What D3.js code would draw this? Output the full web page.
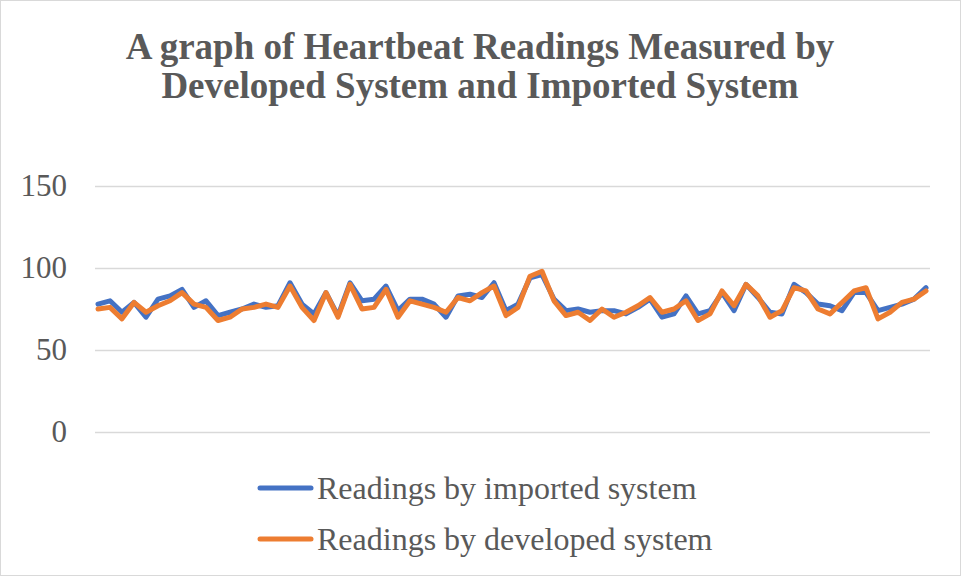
<!DOCTYPE html>
<html>
<head>
<meta charset="utf-8">
<script src="https://cdn.jsdelivr.net/npm/d3@7"></script>
<style>
html,body{margin:0;padding:0;background:#fff;}
svg{display:block;}
</style>
</head>
<body>
<svg id="chart" width="961" height="576"></svg>
<script>
const titleLines = ["A graph of Heartbeat Readings Measured by", "Developed System and Imported System"];
const yTicks = [0, 50, 100, 150];
const seriesNames = ["Readings by imported system", "Readings by developed system"];
const seriesColors = ["#4472C4", "#ED7D31"];
const imported = [78,80,73,79,70,81,83,87,76,80,
                  71,73,75,78,76,77,91,78,72,85,
                  71,91,80,81,89,74,81,81,78,70,
                  83,84,82,91,74,78,94,96,81,74,
                  75,73,74,74,72,76,81,70,72,83,
                  72,74,85,74,90,82,73,72,90,85,
                  78,77,74,85,85,74,76,78,81,88];
const developed = [75,76,69,79,73,77,80,85,78,76,
                   68,70,75,76,78,76,89,76,68,85,
                   70,90,75,76,87,70,80,78,76,73,
                   82,80,85,89,71,76,95,98,80,71,
                   73,68,75,70,73,77,82,73,75,80,
                   68,72,86,77,90,83,70,74,88,86,
                   75,72,79,86,88,69,73,79,81,86];
const categories = d3.range(1, imported.length + 1);

const svg = d3.select("#chart");
const W = 961, H = 576;
const plot = {left: 95, right: 930, top: 186, bottom: 432};
const font = "'Liberation Serif', 'Times New Roman', serif";
const textColor = "#595959";

svg.append("rect").attr("x", 0.5).attr("y", 0.5).attr("width", W - 1).attr("height", H - 1)
  .attr("fill", "#fff").attr("stroke", "#d9d9d9").attr("stroke-width", 1);

// Title
svg.append("g").selectAll("text").data(titleLines).join("text")
  .attr("x", 480).attr("y", (d, i) => 59 + i * 39)
  .attr("text-anchor", "middle")
  .attr("font-family", font).attr("font-weight", "bold").attr("font-size", 37)
  .attr("fill", textColor).text(d => d);

const x = d3.scalePoint().domain(categories).range([98, 926]);
const y = d3.scaleLinear().domain([0, 150]).range([plot.bottom, plot.top]);

// Grid + y labels
const yAxis = d3.axisLeft(y).tickValues(yTicks).tickSize(-(plot.right - plot.left)).tickPadding(28);
const gy = svg.append("g").attr("transform", `translate(${plot.left},0)`).call(yAxis);
gy.select(".domain").remove();
gy.selectAll(".tick line").attr("stroke", "#d9d9d9").attr("stroke-width", 1.3);
gy.selectAll(".tick text").attr("font-family", font).attr("font-size", 31).attr("fill", textColor);

const line = d3.line().x((d, i) => x(categories[i])).y(d => y(d));
const data = [imported, developed];
svg.append("g").selectAll("path").data(data).join("path")
  .attr("d", d => line(d))
  .attr("fill", "none")
  .attr("stroke", (d, i) => seriesColors[i])
  .attr("stroke-width", 5)
  .attr("stroke-linejoin", "round")
  .attr("stroke-linecap", "round");

// Legend
const lg = svg.append("g").selectAll("g").data(seriesNames).join("g")
  .attr("transform", (d, i) => `translate(0,${488 + i * 51})`);
lg.append("line").attr("x1", 260).attr("x2", 311).attr("y1", 0).attr("y2", 0)
  .attr("stroke", (d, i) => seriesColors[i]).attr("stroke-width", 5).attr("stroke-linecap", "round");
lg.append("text").attr("x", 317).attr("y", 11)
  .attr("font-family", font).attr("font-size", 32).attr("fill", textColor).text(d => d);
</script>
</body>
</html>
